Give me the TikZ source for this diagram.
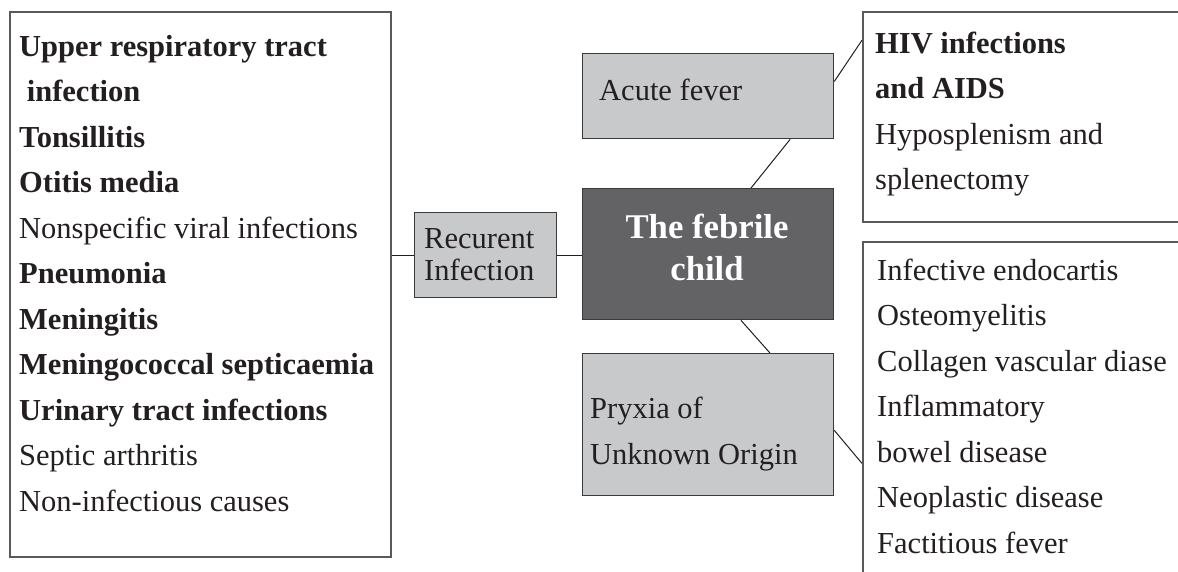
\documentclass[tikz,border=0pt]{standalone}
\usepackage{fontspec}
\setmainfont{Liberation Serif}
\usetikzlibrary{calc}
\definecolor{ink}{HTML}{231F20}
\definecolor{boxline}{HTML}{3A3A3A}
\definecolor{outline}{HTML}{5A5A5A}
\definecolor{lightfill}{HTML}{C8C9CB}
\definecolor{darkfill}{HTML}{636366}
\tikzset{
  panel/.style={draw=outline, line width=1.6pt, fill=white},
  graybox/.style={draw=boxline, line width=1.3pt, fill=lightfill, anchor=north west, inner sep=0pt},
  darkbox/.style={draw=boxline, line width=1.3pt, fill=darkfill, anchor=north west, inner sep=0pt},
  link/.style={draw=ink, line width=1pt},
  txt/.style={anchor=base west, inner sep=0pt, text=ink, font=\fontsize{30.5}{36}\selectfont},
  btxt/.style={txt, font=\fontsize{30.5}{36}\selectfont\bfseries},
  ctxt/.style={anchor=base, inner sep=0pt, text=white, font=\fontsize{34.7}{40}\selectfont\bfseries}
}
\begin{document}
\begin{tikzpicture}[x=1pt,y=-1pt]
\useasboundingbox (0,0) rectangle (1178,571);
\clip (0,0) rectangle (1178,571);
% left panel
\node[panel, anchor=north west, minimum width=381pt, minimum height=545pt, inner sep=0pt] (left) at (9,11) {};
% right panels (running off the page)
\node[panel, anchor=north west, minimum width=340pt, minimum height=210pt, inner sep=0pt] (hivp) at (862,11) {};
\node[panel, anchor=north west, minimum width=340pt, minimum height=360pt, inner sep=0pt] (puop) at (862,241) {};
% boxes
\node[graybox, minimum width=142pt, minimum height=85pt] (rec) at (414,212) {};
\node[darkbox, minimum width=251pt, minimum height=131pt] (center) at (582,188) {};
\node[graybox, minimum width=251pt, minimum height=85pt] (acute) at (582,53) {};
\node[graybox, minimum width=251pt, minimum height=142pt] (puo) at (582,353) {};
% connectors
\draw[link] (left.east |- rec.west) -- (rec.west);
\draw[link] (rec.east) -- (rec.east -| center.west);
\draw[link] ($(acute.south west)!0.825!(acute.south east)$) -- ($(center.north west)!0.67!(center.north east)$);
\draw[link] ($(acute.north east)!0.33!(acute.south east)$) -- ($(hivp.north west)!0.138!(hivp.south west)$);
\draw[link] ($(center.south west)!0.63!(center.south east)$) -- ($(puo.north west)!0.745!(puo.north east)$);
\draw[link] ($(puo.north east)!0.54!(puo.south east)$) -- ($(puop.north west)!0.615!(puop.south west)$);
% left panel text
\node[btxt] (l1) at (19,56) {Upper respiratory tract};
\node[btxt] (l2) at (19,101.5) {\ infection};
\node[btxt] (l3) at (19,147) {Tonsillitis};
\node[btxt] (l4) at (19,192.5) {Otitis media};
\node[txt]  (l5) at (19,238) {Nonspecific viral infections};
\node[btxt] (l6) at (19,283.5) {Pneumonia};
\node[btxt] (l7) at (19,329) {Meningitis};
\node[btxt] (l8) at (19,374.5) {Meningococcal septicaemia};
\node[btxt] (l9) at (19,420) {Urinary tract infections};
\node[txt]  (l10) at (19,465.5) {Septic arthritis};
\node[txt]  (l11) at (19,511) {Non-infectious causes};
% box texts
\node[txt] (rec1) at (424,248) {Recurent};
\node[txt] (rec2) at (424,280) {Infection};
\node[txt] (ac1) at (599,100) {Acute fever};
\node[txt] (puo1) at (590,418) {Pryxia of};
\node[txt] (puo2) at (590,464) {Unknown Origin};
\node[ctxt] (c1) at (707,238) {The febrile};
\node[ctxt] (c2) at (707,280) {child};
% right top text
\node[btxt] (r1) at (875,53) {HIV infections};
\node[btxt] (r2) at (875,98.5) {and AIDS};
\node[txt] (r3) at (875,144) {Hyposplenism and};
\node[txt] (r4) at (875,189.5) {splenectomy};
% right bottom text
\node[txt] (s1) at (877,280) {Infective endocartis};
\node[txt] (s2) at (877,325.5) {Osteomyelitis};
\node[txt] (s3) at (877,371) {Collagen vascular diase};
\node[txt] (s4) at (877,416.5) {Inflammatory};
\node[txt] (s5) at (877,462) {bowel disease};
\node[txt] (s6) at (877,507.5) {Neoplastic disease};
\node[txt] (s7) at (877,553) {Factitious fever};
\end{tikzpicture}
\end{document}
